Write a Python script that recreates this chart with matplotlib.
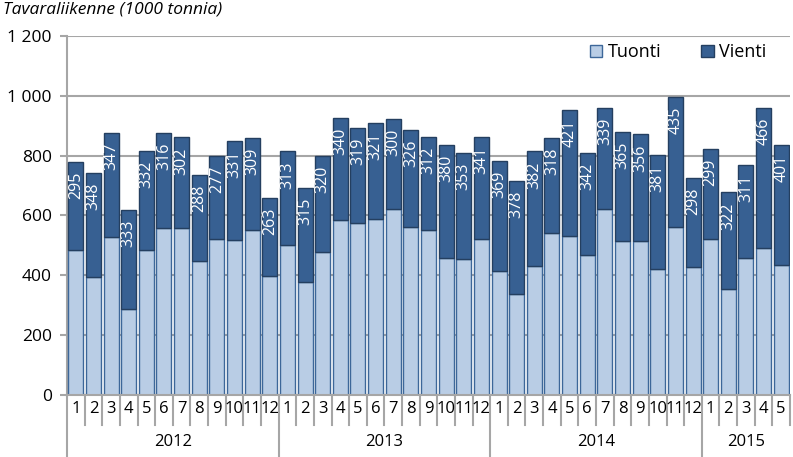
import matplotlib
matplotlib.use("Agg")
import matplotlib.pyplot as plt
import matplotlib.transforms as mtransforms
import numpy as np
from matplotlib.patches import Patch

# Monthly cargo traffic (1000 tonnes), 2012/1 - 2015/5
years = ["2012", "2013", "2014", "2015"]
months_per_year = [12, 12, 12, 5]
tuonti = [485, 395, 528, 287, 485, 559, 559, 448, 522, 519, 551, 397,
          501, 378, 479, 586, 575, 589, 623, 560, 550, 457, 456, 521,
          413, 337, 432, 540, 532, 468, 622, 514, 515, 420, 562, 428,
          522, 355, 458, 492, 436]
vienti = [295, 348, 347, 333, 332, 316, 302, 288, 277, 331, 309, 263,
          313, 315, 320, 340, 319, 321, 300, 326, 312, 380, 353, 341,
          369, 378, 382, 318, 421, 342, 339, 365, 356, 381, 435, 298,
          299, 322, 311, 466, 401]
month_labels = [str(m) for n in months_per_year for m in range(1, n + 1)]

plt.rcParams["font.family"] = ["Open Sans", "DejaVu Sans"]

LIGHT = "#b9cde5"
LIGHT_EDGE = "#3d6799"
DARK = "#376092"
DARK_EDGE = "#243f60"
GRID = "#a6a6a6"

fig = plt.figure(figsize=(7.93, 4.57), dpi=100)
W, H = 793, 457
ax = fig.add_axes([67 / W, (H - 395) / H, (790 - 67) / W, (395 - 36) / H])

n = len(tuonti)
x = np.arange(n)
tu = np.array(tuonti)
vi = np.array(vienti)

ax.bar(x, tu, 0.85, color=LIGHT, edgecolor=LIGHT_EDGE, linewidth=1.0,
       label="Tuonti", zorder=3)
ax.bar(x, vi, 0.85, bottom=tu, color=DARK, edgecolor=DARK_EDGE, linewidth=1.0,
       label="Vienti", zorder=3)

for xi, t, v in zip(x, tu, vi):
    ax.annotate(str(v), (xi, t + v), xytext=(0, -7), textcoords="offset points",
                rotation=90, ha="center", va="top", color="white",
                fontsize=11.5, zorder=4)

ax.set_xlim(-0.5, n - 0.5)
ax.set_ylim(0, 1200)
ax.set_yticks(range(0, 1201, 200))
ax.set_yticklabels([f"{v:,}".replace(",", " ") for v in range(0, 1201, 200)],
                   fontsize=12.5)
ax.yaxis.grid(True, color=GRID, linewidth=1.5, zorder=0)
ax.set_axisbelow(True)
ax.tick_params(axis="y", length=5, width=1.5, color=GRID, pad=6)
ax.set_xticks([])
for s in ["top", "right", "bottom"]:
    ax.spines[s].set_visible(False)
ax.spines["left"].set_color(GRID)
ax.spines["left"].set_linewidth(1.5)

# month and year category axis
trans = mtransforms.blended_transform_factory(ax.transData, ax.transAxes)
px = 1.0 / (395 - 36)
ax.plot([-0.5, n - 0.5], [0, 0], color=GRID, lw=1.5, transform=trans,
        clip_on=False, zorder=5)
bounds = np.cumsum([0] + months_per_year)
for i in range(n + 1):
    if i in bounds[1:-1] or i == 0:
        y0 = -62 * px
    else:
        y0 = -30 * px
    ax.plot([i - 0.5, i - 0.5], [0, y0], color=GRID, lw=1.5, transform=trans,
            clip_on=False)
for xi, lab in zip(x, month_labels):
    ax.text(xi, -14 * px, lab, transform=trans, ha="center", va="center",
            fontsize=12)
for k, yr in enumerate(years):
    mid = (bounds[k] + bounds[k + 1] - 1) / 2
    ax.text(mid, -47 * px, yr, transform=trans, ha="center", va="center",
            fontsize=12)

handles = [Patch(facecolor=LIGHT, edgecolor=LIGHT_EDGE, label="Tuonti"),
           Patch(facecolor=DARK, edgecolor=DARK_EDGE, label="Vienti")]
ax.legend(handles=handles, loc="upper right", ncol=2, frameon=False,
          fontsize=13, bbox_to_anchor=(0.99, 1.025), handlelength=0.7,
          handleheight=0.7, handletextpad=0.3, columnspacing=2.2)

fig.text(3 / W, 1 - 2 / H, "Tavaraliikenne (1000 tonnia)", ha="left", va="top",
         fontsize=12.5, style="italic")

fig.savefig("out.png", dpi=100)
